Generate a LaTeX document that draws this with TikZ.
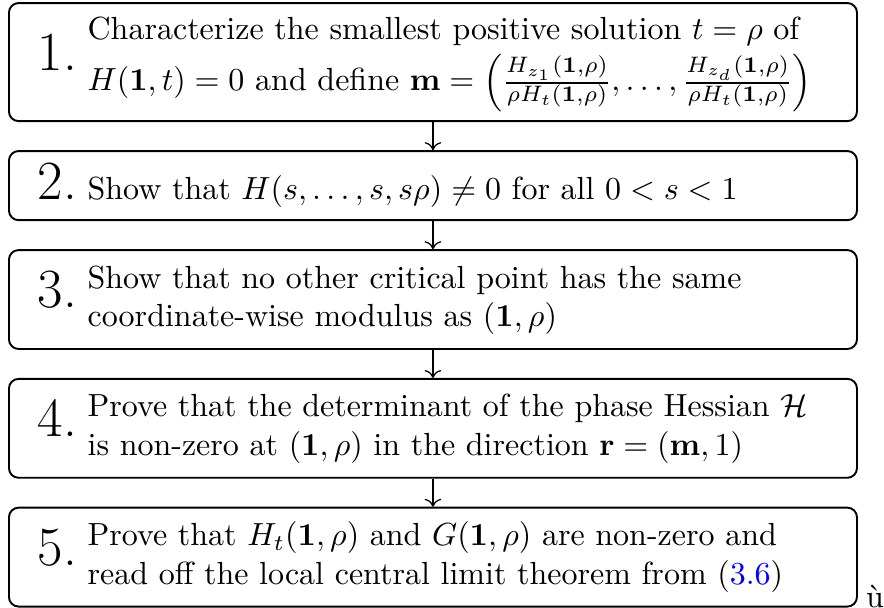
\documentclass[tikz,border=0pt]{standalone}
\usepackage{amsmath, amssymb}
\usepackage{tikz}
\usetikzlibrary{arrows.meta, positioning}

\tikzset{
  stepbox/.style={draw, semithick, rounded corners=3pt, minimum width=265pt, text width=247pt,
    inner xsep=9pt, inner ysep=1pt, align=left},
}
\newcommand{\stepno}[1]{{\LARGE #1.}\ }

\begin{document}
\begin{tikzpicture}[node distance=8.75pt]
  \useasboundingbox (0,0) rectangle (276.25pt,-190pt);
  \node[stepbox, minimum height=36.9pt] (s1) at (135.3pt,-19.4pt)
    {\stepno{1}\begin{tabular}{@{}l@{}}
      Characterize the smallest positive solution $t=\rho$ of\\[1pt]
      $H(\mathbf{1},t)=0$ and define $\mathbf{m}=\left(\frac{H_{z_1}(\mathbf{1},\rho)}{\rho H_t(\mathbf{1},\rho)},\dots,\frac{H_{z_d}(\mathbf{1},\rho)}{\rho H_t(\mathbf{1},\rho)}\right)$
    \end{tabular}};
  \node[stepbox, minimum height=21.6pt, below=of s1] (s2)
    {\stepno{2}Show that $H(s,\dots,s,s\rho)\neq 0$ for all $0<s<1$};
  \node[stepbox, minimum height=30.9pt, below=of s2] (s3)
    {\stepno{3}\begin{tabular}{@{}l@{}}
      Show that no other critical point has the same\\
      coordinate-wise modulus as $(\mathbf{1},\rho)$
    \end{tabular}};
  \node[stepbox, minimum height=30.9pt, below=of s3] (s4)
    {\stepno{4}\begin{tabular}{@{}l@{}}
      Prove that the determinant of the phase Hessian $\mathcal{H}$\\
      is non-zero at $(\mathbf{1},\rho)$ in the direction $\mathbf{r}=(\mathbf{m},1)$
    \end{tabular}};
  \node[stepbox, minimum height=30.9pt, below=of s4] (s5)
    {\stepno{5}\begin{tabular}{@{}l@{}}
      Prove that $H_t(\mathbf{1},\rho)$ and $G(\mathbf{1},\rho)$ are non-zero and\\
      read off the local central limit theorem from ({\color{blue}3.6})
    \end{tabular}};
  \node[anchor=base west, inner sep=0pt] (stray) at ([xshift=2.4pt]s5.south east) {ù};

  \foreach \a/\b in {s1/s2, s2/s3, s3/s4, s4/s5}
    \draw[->] (\a) -- (\b);
\end{tikzpicture}
\end{document}
